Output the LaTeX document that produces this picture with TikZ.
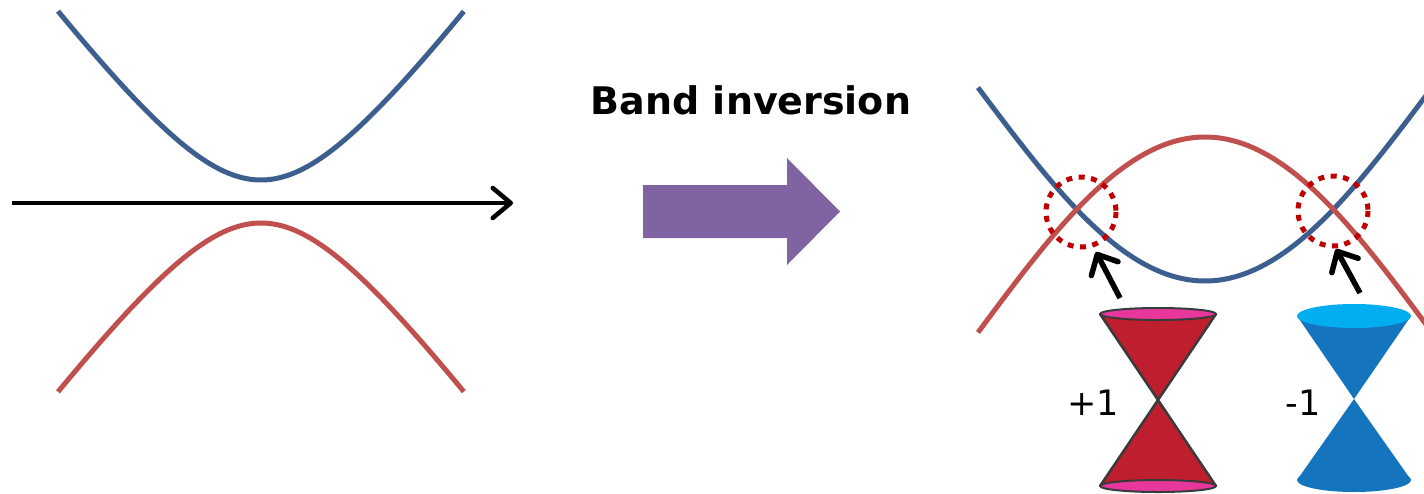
\documentclass[tikz,border=0pt]{standalone}
\usepackage{fontspec}
\setmainfont{DejaVu Sans}
\usetikzlibrary{arrows.meta}
\definecolor{bandblue}{HTML}{3D5F8F}
\definecolor{bandred}{HTML}{C0504D}
\definecolor{flowpurple}{HTML}{8064A2}
\definecolor{ringred}{HTML}{C00000}
\definecolor{conered}{HTML}{BE1E2D}
\definecolor{conepink}{HTML}{E8379C}
\definecolor{coneedge}{HTML}{3A3A3A}
\definecolor{coneblue}{HTML}{1475BE}
\definecolor{conecyan}{HTML}{00AEEF}
\tikzset{
  band/.style={line width=5pt},
  barb/.style={line width=5.5pt,-{Straight Barb[length=16pt,width=30pt,line cap=round,line join=round]}},
  ring/.style={ringred,line width=5pt,dash pattern=on 6pt off 6.5pt},
  conefill/.style={draw=coneedge,line width=2pt,line join=miter},
  label/.style={font=\fontsize{35}{35}\selectfont,inner sep=0pt}
}
\begin{document}
\begin{tikzpicture}[x=1pt,y=-1pt]
\useasboundingbox (0,0) rectangle (1424,493);
\clip (0,0) rectangle (1424,493);

% gapped bands (hyperbolae, dx in units of 100)
\draw[band,bandblue] plot[domain=-2.03:2.03,samples=120]
  ({261+100*\x},{180-100*(sqrt(1.96+1.839*\x*\x)-1.4)});
\draw[band,bandred] plot[domain=-2.03:2.03,samples=120]
  ({261+100*\x},{223+100*(sqrt(1.96+1.839*\x*\x)-1.4)});

% momentum axis
\coordinate (axL) at (12,203);
\coordinate (axR) at (513,203);
\draw[line width=4.5pt,-{Straight Barb[length=18pt,width=30pt,line cap=round,line join=round]}] (axL) -- (axR);

% title and transition arrow
\node[font=\fontsize{38}{38}\selectfont\bfseries,inner sep=0pt,anchor=base] (title) at (751,114) {Band inversion};
\fill[flowpurple] (643,185) -- (787,185) -- (787,158) -- (840,211.5) -- (787,265) -- (787,238) -- (643,238) -- cycle;

% inverted bands
\draw[band,bandblue] plot[domain=978:1430,samples=160]
  (\x,{281-190*(1-cos(0.401*(\x-1205)))});
\draw[band,bandred] plot[domain=978:1430,samples=160]
  (\x,{137+192*(1-cos(0.401*(\x-1205)))});

% crossing points
\coordinate (cL) at (1081,212);
\coordinate (cR) at (1333,211);
\draw[ring] (cL) circle[radius=35];
\draw[ring] (cR) circle[radius=35];

% pointers from the cones
\coordinate (pL) at (1120,298);
\coordinate (tL) at (1096,252);
\coordinate (pR) at (1360,293);
\coordinate (tR) at (1336,249);
\draw[barb] (pL) -- (tL);
\draw[barb] (pR) -- (tR);

% Dirac cone with charge +1
\fill[conered] (1100,314) -- (1216,314) -- (1158,400) -- cycle;
\fill[conered] (1100,486) -- (1216,486) -- (1158,400) -- cycle;
\draw[coneedge,line width=2.5pt] (1100,314) -- (1216,486) (1216,314) -- (1100,486);
\filldraw[conefill,fill=conepink] (1158,314) ellipse[x radius=58,y radius=6];
\filldraw[conefill,fill=conepink] (1158,486) ellipse[x radius=58,y radius=6];
\node[label] (plus) at (1093,403) {+1};

% Dirac cone with charge -1
\fill[coneblue] (1297,316) -- (1411,316) -- (1354,399) -- cycle;
\fill[coneblue] (1297,480) -- (1411,480) -- (1354,399) -- cycle;
\fill[coneblue] (1354,480) ellipse[x radius=57,y radius=12];
\fill[conecyan] (1354,316) ellipse[x radius=57,y radius=12];
\node[label] (minus) at (1303,403) {-1};
\end{tikzpicture}
\end{document}
